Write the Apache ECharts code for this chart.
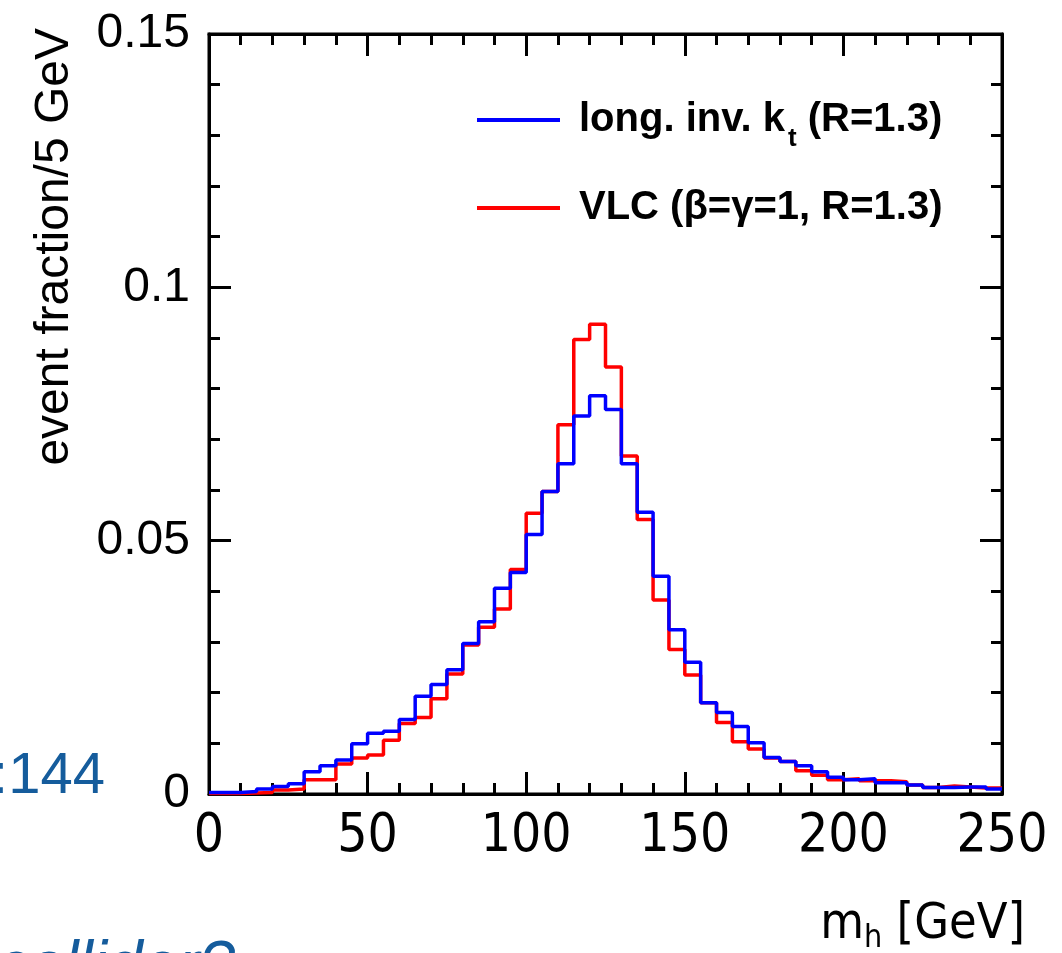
<!DOCTYPE html>
<html>
<head>
<meta charset="utf-8">
<script src="https://cdn.jsdelivr.net/npm/echarts@6/dist/echarts.min.js"></script>
<style>
html,body{margin:0;padding:0;background:#fff;}
#chart{width:1062px;height:953px;}
</style>
</head>
<body>
<div id="chart"></div>
<script>
// ---- data ----
const binWidth = 5; // GeV
const xTicks = [0, 50, 100, 150, 200, 250];
const yTicks = [0, 0.05, 0.1, 0.15];
const blueName = 'long. inv. kt (R=1.3)';
const redName = 'VLC (β=γ=1, R=1.3)';
const blueValues = [
  0.0003, 0.0003, 0.0005, 0.0010, 0.0015, 0.0020, 0.0044, 0.0056, 0.0067, 0.0099,
  0.0120, 0.0124, 0.0147, 0.0193, 0.0216, 0.0245, 0.0297, 0.0340, 0.0406, 0.0437,
  0.0512, 0.0597, 0.0652, 0.0746, 0.0786, 0.0759, 0.0652, 0.0556, 0.0430, 0.0324,
  0.0260, 0.0180, 0.0161, 0.0133, 0.0101, 0.0072, 0.0064, 0.0056, 0.0044, 0.0033,
  0.0028, 0.0030, 0.0022, 0.0022, 0.0018, 0.0013, 0.0013, 0.0014, 0.0014, 0.0010
];
const redValues = [
  0.0001, 0.0001, 0.0002, 0.0003, 0.0008, 0.0010, 0.0028, 0.0028, 0.0059, 0.0071,
  0.0077, 0.0106, 0.0139, 0.0151, 0.0188, 0.0237, 0.0294, 0.0329, 0.0365, 0.0443,
  0.0554, 0.0597, 0.0729, 0.0897, 0.0927, 0.0843, 0.0667, 0.0542, 0.0383, 0.0285,
  0.0235, 0.0180, 0.0141, 0.0103, 0.0089, 0.0071, 0.0064, 0.0046, 0.0037, 0.0028,
  0.0030, 0.0026, 0.0026, 0.0024, 0.0018, 0.0013, 0.0016, 0.0014, 0.0012, 0.0012
];

function histPoints(vals) {
  const pts = vals.map((v, i) => [i * binWidth, v]);
  pts.push([vals.length * binWidth, vals[vals.length - 1]]);
  return pts;
}

const narrow = "'DejaVu Sans Condensed', 'Liberation Sans', Arial, sans-serif";
const sans = "'Liberation Sans', Arial, Helvetica, sans-serif";

const chart = echarts.init(document.getElementById('chart'), null, {renderer: 'canvas'});

function xAxisDef(pos, showLabels) {
  return {
    type: 'value', position: pos, min: xTicks[0], max: xTicks[xTicks.length - 1], interval: 50,
    axisLine: {show: true, onZero: false, lineStyle: {color: '#000', width: 3}},
    axisTick: {show: true, inside: true, length: 22, lineStyle: {color: '#000', width: 3}},
    minorTick: {show: true, splitNumber: 5, length: 11, lineStyle: {color: '#000', width: 3}},
    splitLine: {show: false},
    axisLabel: {show: showLabels, margin: 17, color: '#000', fontFamily: narrow, fontSize: 53}
  };
}
function yAxisDef(pos, showLabels) {
  return {
    type: 'value', position: pos, min: yTicks[0], max: yTicks[yTicks.length - 1], interval: 0.05,
    axisLine: {show: true, onZero: false, lineStyle: {color: '#000', width: 3}},
    axisTick: {show: true, inside: true, length: 22, lineStyle: {color: '#000', width: 3}},
    minorTick: {show: true, splitNumber: 5, length: 11, lineStyle: {color: '#000', width: 3}},
    splitLine: {show: false},
    axisLabel: {show: showLabels, margin: 19, color: '#000', fontFamily: sans, fontSize: 48,
      formatter: v => String(Math.round(v * 100) / 100)}
  };
}

const option = {
  backgroundColor: '#fff',
  animation: false,
  grid: {left: 209, top: 34, width: 793, height: 760, show: true, borderColor: '#000', borderWidth: 3, backgroundColor: 'transparent'},
  xAxis: [xAxisDef('bottom', true), xAxisDef('top', false)],
  yAxis: [yAxisDef('left', true), yAxisDef('right', false)],
  legend: {
    orient: 'vertical', left: 477, top: 88, itemGap: 36, padding: 0,
    itemWidth: 83, itemHeight: 4, icon: 'rect',
    data: [blueName, redName],
    textStyle: {
      padding: [0, 0, 0, 14],
      rich: {
        b: {fontFamily: sans, fontWeight: 'bold', fontSize: 40, color: '#000', lineHeight: 44},
        s: {fontFamily: sans, fontWeight: 'bold', fontSize: 26, color: '#000', lineHeight: 44, padding: [38, 0, 0, 3]}
      }
    },
    formatter: function (name) {
      if (name === blueName) return '{b|long. inv. k}{s|t}{b| (R=1.3)}';
      return '{b|VLC (β=γ=1, R=1.3)}';
    }
  },
  series: [
    {name: redName, type: 'line', step: 'end', xAxisIndex: 0, yAxisIndex: 0,
     data: histPoints(redValues), showSymbol: false, symbol: 'none',
     itemStyle: {color: '#ff0000'}, lineStyle: {color: '#ff0000', width: 3.5}},
    {name: blueName, type: 'line', step: 'end', xAxisIndex: 0, yAxisIndex: 0,
     data: histPoints(blueValues), showSymbol: false, symbol: 'none',
     itemStyle: {color: '#0000ff'}, lineStyle: {color: '#0000ff', width: 3.5}}
  ],
  graphic: [
    {type: 'text', x: 55, y: 28, rotation: Math.PI / 2,
     style: {text: 'event fraction/5 GeV', fontFamily: sans, fontSize: 48, fill: '#000', align: 'right', verticalAlign: 'middle'}},
    {type: 'text', x: 1025, y: 925,
     style: {text: '{a|m}{s|h}{a| [GeV]}', align: 'right', verticalAlign: 'middle',
       rich: {a: {fontFamily: narrow, fontSize: 50, fill: '#000', lineHeight: 50},
              s: {fontFamily: narrow, fontSize: 32, fill: '#000', lineHeight: 50, padding: [28, 0, 0, 0]}}}},
    {type: 'text', x: 105, y: 777,
     style: {text: ':144', fontFamily: sans, fontSize: 58, fill: '#155c9c', align: 'right', verticalAlign: 'middle'}},
    {type: 'text', x: 235, y: 968,
     style: {text: 'collider?', fontFamily: sans, fontStyle: 'italic', fontSize: 64, fill: '#155c9c', align: 'right', verticalAlign: 'middle'}}
  ]
};
chart.setOption(option);
</script>
</body>
</html>
